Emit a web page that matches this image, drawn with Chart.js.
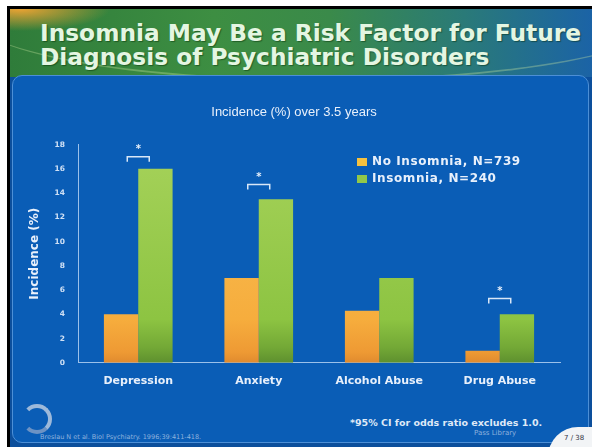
<!DOCTYPE html>
<html>
<head>
<meta charset="utf-8">
<script src="https://cdn.jsdelivr.net/npm/chart.js@4/dist/chart.umd.min.js"></script>
<style>
    body { margin: 0; background: #fff; width: 592px; height: 447px; overflow: hidden; position: relative; }
    .frame { position: absolute; left: 7px; top: 6px; right: 0; bottom: 0; background: #000; }
    .slide { position: absolute; left: 10px; top: 9px; right: 0; bottom: 0; background: #0c4f9c; overflow: hidden; }
    .header {
        position: absolute; left: 0; top: 0; right: 0; height: 68px;
        background:
            radial-gradient(ellipse 90px 22px at 10px 0px, rgba(245,165,50,0.95), rgba(245,165,50,0) 100%),
            linear-gradient(to right, #2f7c3a 0%, #3d8e42 35%, #3a8a4a 55%, #2a7a78 78%, #1b63a6 100%);
    }
    .swoosh {
        position: absolute; left: -40px; top: -60px; width: 700px; height: 130px;
        border-radius: 50%; border-bottom: 2px solid rgba(200,230,160,0.35);
    }
    .title {
        position: absolute; left: 40px; top: 21px; width: 560px;
        font-family: "DejaVu Sans", sans-serif; font-weight: bold; font-size: 23.3px; line-height: 24px;
        color: #e4f6e2; text-shadow: 1px 1px 1px rgba(0,40,0,0.45); white-space: nowrap;
    }
    .panel {
        position: absolute; left: 2px; top: 66px; right: 3px; bottom: 4px;
        background: #0a5db6; border: 1px solid #4c8fd6; border-radius: 10px;
    }
    .footnote {
        position: absolute; left: 350px; top: 417px;
        font-family: "DejaVu Sans", sans-serif; font-weight: bold; font-size: 9.5px; color: #dfe9f7;
    }
    .cite {
        position: absolute; left: 40px; top: 433px;
        font-family: "DejaVu Sans", sans-serif; font-size: 6.5px; color: #8fb2dd;
    }
    .lib {
        position: absolute; left: 474px; top: 429px;
        font-family: "DejaVu Sans", sans-serif; font-size: 7px; color: #8fb2dd;
    }
    .logo {
        position: absolute; left: 22px; top: 404px; width: 22px; height: 22px;
        border: 4px solid #9db9da; border-radius: 50%; border-left-color: transparent; border-bottom-color: #6d93c4;
    }
    .tab {
        position: absolute; left: 548px; top: 427px; width: 60px; height: 30px;
        background: #f2f4f6; border-radius: 30px 0 0 0;
        font-family: "DejaVu Sans", sans-serif; font-size: 7px; color: #334;
        padding: 7px 0 0 16px; box-sizing: border-box;
    }
    #chart { position: absolute; left: 0; top: 0; }
</style>
</head>
<body>
<div class="frame"></div>
<div class="slide">
    <div class="header"><div class="swoosh"></div></div>
    <div class="panel"></div>
</div>
<div class="title">Insomnia May Be a Risk Factor for Future<br>Diagnosis of Psychiatric Disorders</div>
<div class="logo"></div>
<div class="cite">Breslau N et al. Biol Psychiatry. 1996;39:411-418.</div>
<div class="footnote">*95% CI for odds ratio excludes 1.0.</div>
<div class="lib">Pass Library</div>
<div class="tab">7 / 38</div>
<canvas id="chart" width="592" height="447"></canvas>

<script>
// Chart data
const categories = ['Depression', 'Anxiety', 'Alcohol Abuse', 'Drug Abuse'];
const noInsomnia = [4.0, 7.0, 4.3, 1.0];
const insomnia = [16.0, 13.5, 7.0, 4.0];
// height of the significance bracket (same units as y), null = no bracket
const sigLevel = [17.0, 14.7, null, 5.3];
const seriesLabels = ['No Insomnia, N=739', 'Insomnia, N=240'];
const yMax = 18;
const yStep = 2;

const TEXT = '#e8f0fb';
const AXIS = '#9cc1ea';

// Vertical gradient for bars, darker near the base
function barFill(stops, fallback) {
    return (ctx) => {
        const area = ctx.chart.chartArea;
        if (!area) return fallback;
        const g = ctx.chart.ctx.createLinearGradient(0, area.top, 0, area.bottom);
        stops.forEach(s => g.addColorStop(s[0], s[1]));
        return g;
    };
}

// Legend drawn inside the plot area
const insideLegend = {
    id: 'insideLegend',
    afterDraw(chart, args, opts) {
        const c = chart.ctx;
        c.save();
        c.font = 'bold 12px "DejaVu Sans"';
        c.letterSpacing = '0.6px';
        c.textBaseline = 'middle';
        chart.data.datasets.forEach((ds, i) => {
            const y = opts.y + i * opts.gap;
            c.fillStyle = ds.swatch;
            c.fillRect(opts.x, y - 4, 10, 8);
            c.fillStyle = TEXT;
            c.fillText(ds.label, opts.x + 15, y);
        });
        c.restore();
    }
};

// Significance brackets with asterisks
const sigBrackets = {
    id: 'sigBrackets',
    afterDatasetsDraw(chart) {
        const c = chart.ctx;
        const yScale = chart.scales.y;
        const m0 = chart.getDatasetMeta(0);
        const m1 = chart.getDatasetMeta(1);
        c.save();
        c.strokeStyle = '#d9e7f7';
        c.lineWidth = 1.5;
        c.fillStyle = TEXT;
        c.font = 'bold 10px "DejaVu Sans"';
        c.textAlign = 'center';
        c.textBaseline = 'middle';
        sigLevel.forEach((lvl, i) => {
            if (lvl === null) return;
            const b0 = m0.data[i], b1 = m1.data[i];
            const x0 = b0.x + b0.width * 0.18;
            const x1 = b1.x - b1.width * 0.18;
            const y = yScale.getPixelForValue(lvl);
            c.beginPath();
            c.moveTo(x0, y + 5);
            c.lineTo(x0, y);
            c.lineTo(x1, y);
            c.lineTo(x1, y + 5);
            c.stroke();
            c.fillText('*', (x0 + x1) / 2, y - 7);
        });
        c.restore();
    }
};

new Chart(document.getElementById('chart'), {
    type: 'bar',
    data: {
        labels: categories,
        datasets: [
            {
                label: seriesLabels[0],
                data: noInsomnia,
                swatch: '#f6c13f',
                backgroundColor: barFill([[0, '#f9c25a'], [0.8, '#f6ad3d'], [0.95, '#ee9a34'], [1, '#e08a2e']], '#f6ad3d')
            },
            {
                label: seriesLabels[1],
                data: insomnia,
                swatch: '#92c84a',
                backgroundColor: barFill([[0, '#a6d25a'], [0.8, '#8dc442'], [0.93, '#73a836'], [1, '#5e902e']], '#8dc442')
            }
        ]
    },
    options: {
        responsive: false,
        animation: false,
        categoryPercentage: 0.57,
        barPercentage: 1.0,
        layout: { padding: { left: 28, right: 32, top: 0, bottom: 47 } },
        plugins: {
            legend: { display: false },
            tooltip: { enabled: false },
            title: {
                display: true,
                text: 'Incidence (%) over 3.5 years',
                color: TEXT,
                font: { family: 'Liberation Sans', size: 13, weight: 'normal' },
                padding: { top: 105, bottom: 24 }
            },
            insideLegend: { x: 357, y: 162, gap: 17 }
        },
        scales: {
            x: {
                grid: { display: false, drawTicks: false },
                border: { display: true, color: AXIS, width: 1 },
                ticks: {
                    color: TEXT,
                    padding: 12,
                    font: { family: 'DejaVu Sans', size: 11, weight: 'bold' }
                }
            },
            y: {
                min: 0,
                max: yMax,
                afterFit(scale) { scale.width = 50; },
                grid: { display: false, drawTicks: false },
                border: { display: true, color: AXIS, width: 1 },
                ticks: {
                    stepSize: yStep,
                    color: '#cfe0f5',
                    padding: 13,
                    font: { family: 'DejaVu Sans', size: 7.5, weight: 'bold' }
                },
                title: {
                    display: true,
                    text: 'Incidence (%)',
                    color: TEXT,
                    padding: 0,
                    font: { family: 'DejaVu Sans', size: 12, weight: 'bold' }
                }
            }
        }
    },
    plugins: [insideLegend, sigBrackets]
});
</script>
</body>
</html>
